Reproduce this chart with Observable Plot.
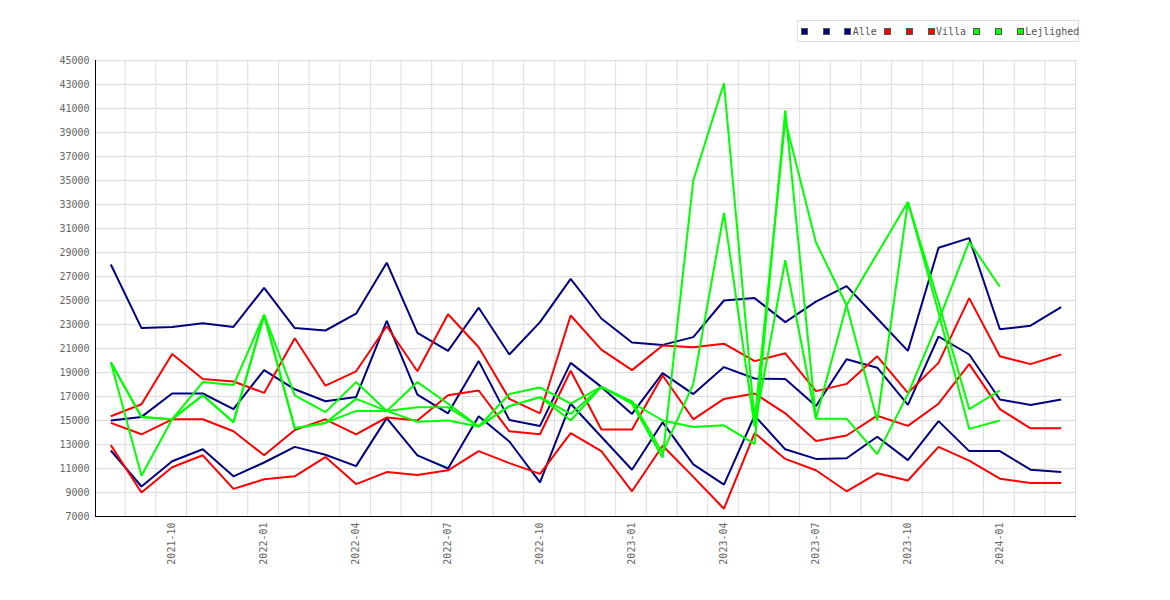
<!DOCTYPE html>
<html>
<head>
<meta charset="utf-8">
<script src="https://cdn.jsdelivr.net/npm/d3@7"></script>
<script src="https://cdn.jsdelivr.net/npm/@observablehq/plot@0.6"></script>
<style>
  html, body { margin: 0; padding: 0; background: #fff; }
  #wrap { position: relative; width: 1170px; height: 600px; }
  #legend {
    position: absolute; left: 797px; top: 20px; width: 277px; height: 20px;
    border: 1px solid #ddd; background: #fff; display: flex; align-items: center;
    padding-left: 3px; box-sizing: content-box; overflow: visible;
    font-family: "DejaVu Sans Mono", monospace; font-size: 10px; color: #555; white-space: nowrap;
  }
  .item { display: inline-flex; align-items: center; margin-right: 7.4px; }
  .sq { width: 5px; height: 5px; border: 1px solid #555; display: inline-block; margin-right: 1.3px; }
</style>
</head>
<body>
<div id="wrap"><div id="chart"></div><div id="legend"></div></div>
<script>
const months = ["2021-08","2021-09","2021-10","2021-11","2021-12","2022-01","2022-02","2022-03","2022-04","2022-05","2022-06","2022-07","2022-08","2022-09","2022-10","2022-11","2022-12","2023-01","2023-02","2023-03","2023-04","2023-05","2023-06","2023-07","2023-08","2023-09","2023-10","2023-11","2023-12","2024-01","2024-02","2024-03"];
const xTickLabels = ["2021-10","2022-01","2022-04","2022-07","2022-10","2023-01","2023-04","2023-07","2023-10","2024-01"];
const yTicks = [7000,9000,11000,13000,15000,17000,19000,21000,23000,25000,27000,29000,31000,33000,35000,37000,39000,41000,43000,45000];

const alleHigh = [28000,22700,22800,23100,22800,26050,22700,22500,23900,28150,22300,20800,24400,20500,23200,26800,23500,21500,21300,21950,25000,25200,23200,24900,26200,23500,20800,29400,30200,22600,22900,24450];
const alleMid  = [15000,15300,17250,17250,15950,19200,17600,16600,16950,23300,17150,15600,19950,15050,14550,19800,17800,15550,18950,17200,19450,18500,18450,16200,20100,19400,16300,22000,20500,16750,16300,16750];
const alleLow  = [12500,9500,11600,12600,10350,11500,12800,12150,11200,15200,12100,11000,15350,13250,9850,16400,13650,10900,14850,11350,9650,15400,12600,11800,11850,13650,11700,14950,12450,12450,10900,10700];

const villaHigh = [15350,16350,20550,18450,18250,17300,21850,17900,19100,22850,19100,23850,21100,16800,15600,23750,20900,19200,21250,21100,21400,19950,20600,17450,18050,20350,17300,19800,25200,20350,19700,20500];
const villaMid  = [14800,13850,15100,15100,14100,12100,14200,15100,13850,15250,15000,17100,17500,14100,13850,19150,14250,14250,18750,15100,16800,17250,15600,13300,13750,15400,14550,16400,19700,15950,14350,14350];
const villaLow  = [12950,9000,11100,12100,9300,10100,10350,11950,9700,10700,10450,10850,12450,11450,10550,13950,12450,9100,12900,10300,7650,13950,11800,10850,9100,10600,10000,12800,11650,10150,9800,9800];

const lejA = [19850,15300,15100,18200,17950,23800,17100,15700,18200,15800,18200,16400,14500,17200,17750,16400,17800,16400,11900,35000,43100,15000,40000,29850,24600,15000,33200,24000,14300,15000,null,null];
const lejB = [19850,15300,15100,17100,14850,23800,14350,14800,16800,15800,16100,16100,14500,16200,16950,15550,17800,16600,12300,18050,32300,14500,28350,15150,15150,12200,17200,23300,29900,26150,null,null];
const lejC = [19850,10400,15100,17100,14850,23800,14350,14800,15800,15800,14900,15000,14500,16200,16950,15000,17800,16500,15000,14450,14600,13050,40850,15150,24600,28900,33200,24850,15950,17500,null,null];

const groups = [
  {name: "Alle", color: "#000080", series: [alleHigh, alleMid, alleLow]},
  {name: "Villa", color: "#ff0000", series: [villaHigh, villaMid, villaLow]},
  {name: "Lejlighed", color: "#00ff00", series: [lejA, lejB, lejC]}
];

const boundaries = months.map((m, i) => i + 0.5);
const xTicks = xTickLabels.map(l => months.indexOf(l));

const lineMarks = [];
for (const g of groups) {
  for (const s of g.series) {
    lineMarks.push(Plot.lineY(s, {x: (d, i) => i, y: d => d, stroke: g.color, strokeWidth: 2, strokeLinejoin: "miter", strokeLinecap: "butt"}));
  }
}

const chart = Plot.plot({
  width: 1170,
  height: 600,
  marginTop: 60,
  marginBottom: 84,
  marginLeft: 95,
  marginRight: 94,
  style: {fontFamily: "'DejaVu Sans Mono', monospace", fontSize: "10px", color: "#666", background: "#fff"},
  x: {type: "linear", domain: [-0.5, months.length - 0.5]},
  y: {type: "linear", domain: [7000, 45000]},
  marks: [
    Plot.ruleY(yTicks, {stroke: "#dcdcdc", strokeWidth: 1}),
    Plot.ruleX(boundaries, {stroke: "#dcdcdc", strokeWidth: 1, dx: -1}),
    ...lineMarks,
    Plot.ruleX([-0.5], {stroke: "#000", strokeWidth: 1}),
    Plot.ruleY([7000], {stroke: "#000", strokeWidth: 1}),
    Plot.axisY(yTicks, {tickSize: 0, tickPadding: 6, tickFormat: d => String(d), label: null}),
    Plot.axisX(xTicks, {tickSize: 0, tickPadding: 6, tickRotate: -90, tickFormat: i => months[i], label: null})
  ]
});
document.getElementById("chart").appendChild(chart);

const legend = document.getElementById("legend");
for (const g of groups) {
  g.series.forEach((s, k) => {
    const item = document.createElement("span");
    item.className = "item";
    const sq = document.createElement("span");
    sq.className = "sq";
    sq.style.background = g.color;
    const lab = document.createElement("span");
    lab.textContent = k === g.series.length - 1 ? g.name : "\u00a0";
    item.appendChild(sq);
    item.appendChild(lab);
    legend.appendChild(item);
  });
}
</script>
</body>
</html>
